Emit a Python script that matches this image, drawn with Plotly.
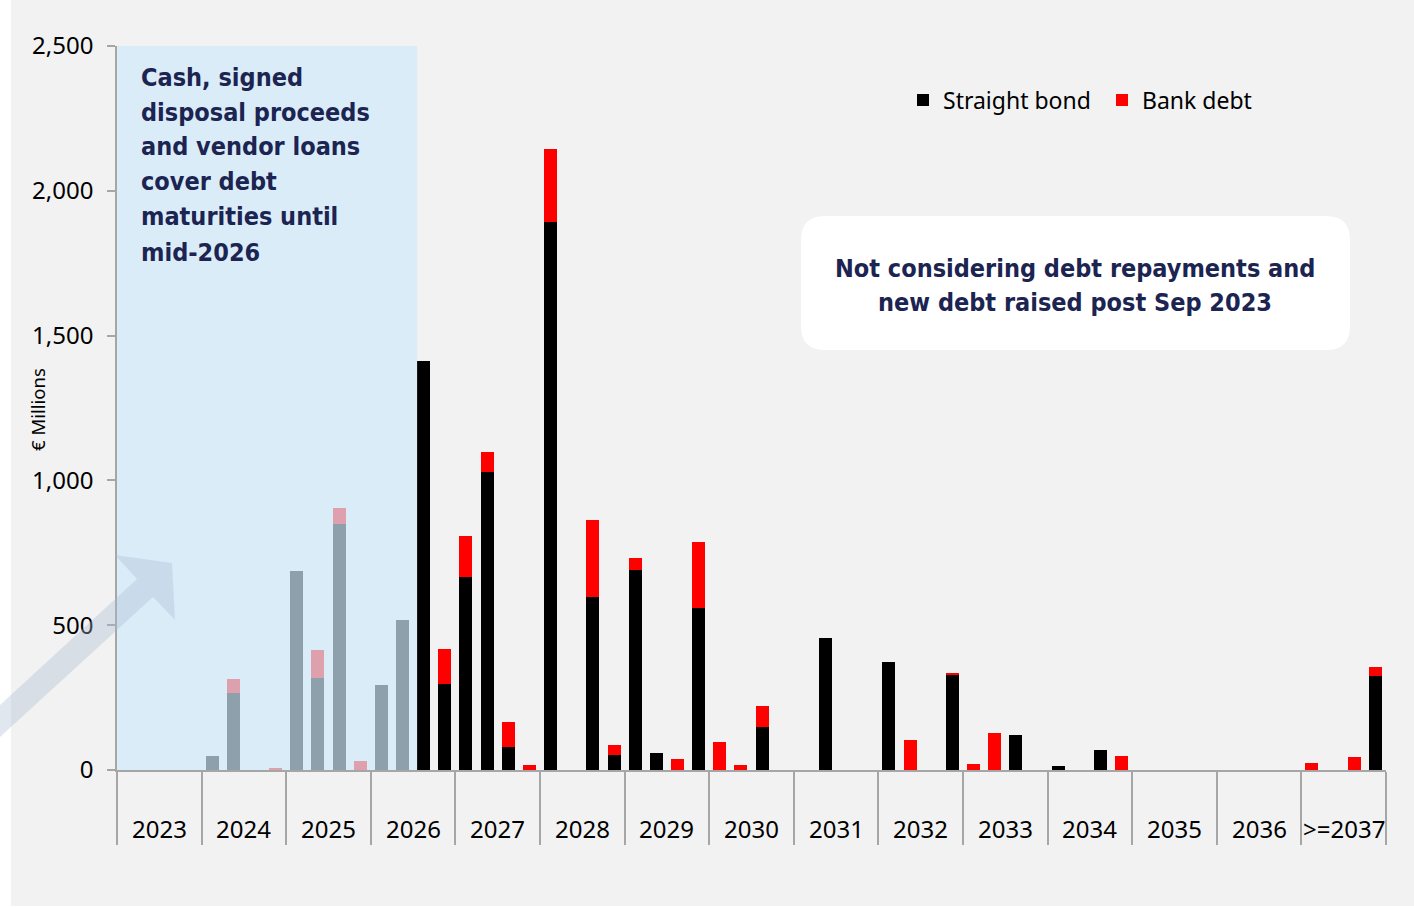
import plotly.graph_objects as go

# Maturity profile by quarter, € millions
years = ["2023", "2024", "2025", "2026", "2027", "2028", "2029", "2030",
         "2031", "2032", "2033", "2034", "2035", "2036", ">=2037"]
quarters = ["Q1", "Q2", "Q3", "Q4"]

straight_bond = [
    0, 0, 0, 0,          # 2023
    48, 267, 0, 0,       # 2024
    687, 319, 848, 0,    # 2025
    293, 518, 1413, 296,  # 2026
    667, 1028, 79, 0,    # 2027
    1894, 0, 599, 51,    # 2028
    691, 59, 0, 561,     # 2029
    0, 0, 150, 0,        # 2030
    0, 455, 0, 0,        # 2031
    372, 0, 0, 328,      # 2032
    0, 0, 120, 0,        # 2033
    13, 0, 68, 0,        # 2034
    0, 0, 0, 0,          # 2035
    0, 0, 0, 0,          # 2036
    0, 0, 0, 325,        # >=2037
]
bank_debt = [
    0, 0, 0, 0,          # 2023
    0, 46, 0, 8,         # 2024
    0, 95, 58, 31,       # 2025
    0, 0, 0, 123,        # 2026
    140, 71, 88, 17,     # 2027
    250, 0, 264, 36,     # 2028
    41, 0, 37, 226,      # 2029
    95, 18, 72, 0,       # 2030
    0, 0, 0, 0,          # 2031
    0, 105, 0, 8,        # 2032
    21, 128, 0, 0,       # 2033
    0, 0, 0, 48,         # 2034
    0, 0, 0, 0,          # 2035
    0, 0, 0, 0,          # 2036
    23, 0, 45, 30,       # >=2037
]
y_ticks = [0, 500, 1000, 1500, 2000, 2500]
covered_quarters = 14   # 2023 Q1 .. 2026 Q2 covered by cash and disposals

cover_lines = ["Cash, signed", "disposal proceeds", "and vendor loans",
               "cover debt", "maturities until", "mid-2026"]
note_lines = ["Not considering debt repayments and",
              "new debt raised post Sep 2023"]

W, H = 1414, 907
L, R, T, B = 117, 28, 46, 137
PW, PH = W - L - R, H - T - B
NAVY = "#1c2452"
AXIS = "#a6a6a6"
BOLD_FONT = "DejaVu Sans Condensed, sans-serif"
BASE_FONT = "Noto Sans, sans-serif"
BAR_W = 0.615


def px(x):
    return (x - L) / PW


def py(y):
    return (H - B - y) / PH


n = len(years) * len(quarters)
xs = list(range(n))
labels = [f"{y} {q}" for y in years for q in quarters]


def nz(vals):
    return [v if v else None for v in vals]


fig = go.Figure()
fig.add_trace(go.Bar(x=xs, y=nz(straight_bond), name="Straight bond",
                     marker=dict(color="#000000", line=dict(width=0)),
                     width=BAR_W, customdata=labels,
                     hovertemplate="%{customdata}<br>%{y:,}<extra>Straight bond</extra>"))
fig.add_trace(go.Bar(x=xs, y=nz(bank_debt), name="Bank debt",
                     marker=dict(color="#ff0000", line=dict(width=0)),
                     width=BAR_W, customdata=labels,
                     hovertemplate="%{customdata}<br>%{y:,}<extra>Bank debt</extra>"))

shapes = []
# grey canvas behind the chart
shapes.append(dict(type="rect", xref="paper", yref="paper", layer="below",
                   x0=px(11), x1=px(W), y0=py(906), y1=py(0),
                   fillcolor="#f2f2f2", line=dict(width=0)))
# translucent wash over the covered period
shapes.append(dict(type="rect", xref="x", yref="y", layer="above",
                   x0=-0.5, x1=covered_quarters - BAR_W / 2,
                   y0=0, y1=y_ticks[-1],
                   fillcolor="rgba(208,233,252,0.686)", line=dict(width=0)))
# rising arrow
arrow = [(0, 737), (0, 705), (137, 579), (115, 555), (172, 563),
         (175, 620), (153, 597)]
path = "M" + " L".join(f"{px(a):.5f},{py(b):.5f}" for a, b in arrow) + " Z"
shapes.append(dict(type="path", xref="paper", yref="paper", layer="above",
                   path=path, fillcolor="rgba(170,185,210,0.35)",
                   line=dict(width=0)))
# rounded note box
bx0, bx1, by0, by1, rr = 801, 1350, 216, 350, 24
pts = [
    ("M", (bx0 + rr, by0)), ("L", (bx1 - rr, by0)),
    ("Q", (bx1, by0), (bx1, by0 + rr)), ("L", (bx1, by1 - rr)),
    ("Q", (bx1, by1), (bx1 - rr, by1)), ("L", (bx0 + rr, by1)),
    ("Q", (bx0, by1), (bx0, by1 - rr)), ("L", (bx0, by0 + rr)),
    ("Q", (bx0, by0), (bx0 + rr, by0)),
]
segs = []
for p in pts:
    cmd = p[0]
    coords = " ".join(f"{px(a):.5f},{py(b):.5f}" for a, b in p[1:])
    segs.append(f"{cmd}{coords}")
shapes.append(dict(type="path", xref="paper", yref="paper", layer="below",
                   path=" ".join(segs) + " Z", fillcolor="#ffffff",
                   line=dict(width=0)))

annotations = []
# year labels under each group of quarters
for i, yr in enumerate(years):
    annotations.append(dict(x=4 * i + 1.5, xref="x", y=py(828), yref="paper",
                            text=yr, showarrow=False, xanchor="center",
                            yanchor="middle",
                            font=dict(family=BASE_FONT, size=24, color="#000000")))
annotations.append(dict(x=px(38), y=py(410), xref="paper", yref="paper",
                        text="€ Millions", textangle=-90, showarrow=False,
                        xanchor="center", yanchor="middle",
                        font=dict(family=BASE_FONT, size=18.5, color="#000000")))
bold = dict(family=BOLD_FONT, size=25, color=NAVY, weight="bold")
for k, line in enumerate(cover_lines):
    annotations.append(dict(x=px(139), y=py(77 + 35 * k), xref="paper", yref="paper",
                            xanchor="left", yanchor="middle", text=line,
                            showarrow=False, font=bold))
for k, line in enumerate(note_lines):
    annotations.append(dict(x=px(1075), y=py(268 + 34 * k), xref="paper", yref="paper",
                            xanchor="center", yanchor="middle", text=line,
                            showarrow=False, font=bold))

fig.update_layout(
    width=W, height=H, autosize=False,
    margin=dict(l=L, r=R, t=T, b=B),
    paper_bgcolor="#ffffff", plot_bgcolor="rgba(0,0,0,0)",
    barmode="stack", showlegend=True,
    legend=dict(orientation="h", x=px(903), y=py(100), xanchor="left",
                yanchor="middle", bgcolor="rgba(0,0,0,0)",
                entrywidth=154, entrywidthmode="pixels",
                font=dict(family=BASE_FONT, size=23, color="#000000"),
                traceorder="normal"),
    shapes=shapes, annotations=annotations,
    xaxis=dict(range=[-0.5, n - 0.5], showgrid=False, zeroline=False,
               showline=True, linecolor=AXIS, linewidth=1.5,
               tickmode="array", tickvals=[4 * i - 0.5 for i in range(len(years) + 1)],
               ticks="outside", ticklen=73, tickcolor=AXIS, tickwidth=1.5,
               showticklabels=False, fixedrange=True),
    yaxis=dict(range=[0, y_ticks[-1]], showgrid=False, zeroline=False,
               showline=True, linecolor=AXIS, linewidth=1.5,
               tickmode="array", tickvals=y_ticks, tickformat=",",
               ticks="outside", ticklen=8, tickcolor=AXIS, tickwidth=1.5,
               ticklabelstandoff=9,
               tickfont=dict(family=BASE_FONT, size=24, color="#000000"),
               fixedrange=True),
)

fig.write_html("out.html")
